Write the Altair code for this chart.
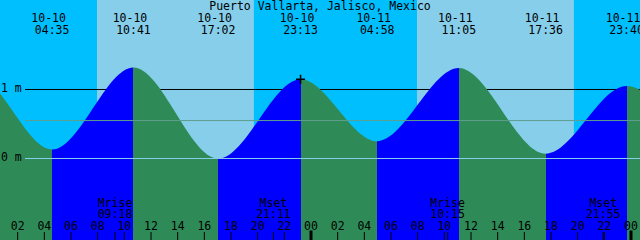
import altair as alt
import pandas as pd

# ---------------- data ----------------
title_text = "Puerto Vallarta, Jalisco, Mexico"

# tide extremes shown in the chart
tide_dates = ["10-10", "10-10", "10-10", "10-10", "10-11", "10-11", "10-11", "10-11"]
tide_times = ["04:35", "10:41", "17:02", "23:13", "04:58", "11:05", "17:36", "23:40"]
tide_heights = [0.13, 1.32, 0.00, 1.15, 0.25, 1.31, 0.07, 1.05]

# extremes just outside the window (estimated, keep the curve shape at the edges)
pre_dates = ["10-09", "10-09"]
pre_times = ["16:25", "22:50"]
pre_heights = [0.05, 1.20]
post_dates = ["10-12", "10-12"]
post_times = ["05:25", "11:35"]
post_heights = [0.33, 1.28]

# sun (day = light sky)
sunrise = [("10-10", "07:57"), ("10-11", "07:57")]
sunset = [("10-10", "19:43"), ("10-11", "19:43")]

# moon events
moon_labels = ["Mrise", "Mset", "Mrise", "Mset"]
moon_dates = ["10-10", "10-10", "10-11", "10-11"]
moon_times = ["09:18", "21:11", "10:15", "21:55"]

# hour ticks along the bottom
tick_hours = list(range(2, 49, 2))
tick_labels = ["02", "04", "06", "08", "10", "12", "14", "16", "18", "20", "22", "00",
               "02", "04", "06", "08", "10", "12", "14", "16", "18", "20", "22", "00"]
midnight_hours = [24, 48]

# horizontal reference levels (m)
ref_levels = [1.0, 0.55, 0.0]
ref_colors = ["#000000", "#5f9e8f", "#87ceeb"]
axis_levels = [1.0, 0.0]
axis_labels = ["1 m", "0 m"]

# current-time marker
now_date, now_time, now_height = "10-10", "23:13", 1.15

# colours
NIGHT = "#00bfff"
DAY = "#87ceeb"
FALLING = "#2e8b57"
RISING = "#0000ff"

FONT = "DejaVu Sans Mono"
FS = 11.5

Y_DOMAIN = [-1.1812, 2.2971]


def hours(date, time):
    d = int(date.split("-")[1]) - 10
    hh, mm = map(int, time.split(":"))
    return d * 24 + hh + mm / 60.0


# ---------------- tables ----------------
all_dates = pre_dates + tide_dates + post_dates
all_times = pre_times + tide_times + post_times
all_heights = pre_heights + tide_heights + post_heights
curve = pd.DataFrame({
    "t": [hours(d, t) for d, t in zip(all_dates, all_times)],
    "h": all_heights,
})

tides = pd.DataFrame({
    "t": [hours(d, t) for d, t in zip(tide_dates, tide_times)],
    "date": tide_dates,
    "time": tide_times,
})

days = pd.DataFrame({
    "t1": [hours(d, t) for d, t in sunrise],
    "t2": [hours(d, t) for d, t in sunset],
})

moon = pd.DataFrame({
    "t": [hours(d, t) for d, t in zip(moon_dates, moon_times)],
    "label": moon_labels,
    "time": moon_times,
})

ticks = pd.DataFrame({"t": tick_hours, "label": tick_labels})
mids = pd.DataFrame({"t": midnight_hours})
refs = pd.DataFrame({"h": ref_levels, "c": ref_colors})
axlab = pd.DataFrame({"h": axis_levels, "label": axis_labels})
now = pd.DataFrame({"t": [hours(now_date, now_time)], "h": [now_height]})

# gradient stops: blue while rising, green while falling
tmin, tmax = curve["t"].min(), curve["t"].max()
stops = []
for i in range(len(curve) - 1):
    c = RISING if curve["h"][i + 1] > curve["h"][i] else FALLING
    o1 = (curve["t"][i] - tmin) / (tmax - tmin)
    o2 = (curve["t"][i + 1] - tmin) / (tmax - tmin)
    stops.append(alt.GradientStop(offset=float(o1), color=c))
    stops.append(alt.GradientStop(offset=float(o2), color=c))
ground = alt.Gradient(gradient="linear", stops=stops, x1=0, x2=1, y1=0, y2=0)

# ---------------- scales ----------------
xs = alt.Scale(domain=[0.675, 48.675], nice=False, zero=False)
ys = alt.Scale(domain=Y_DOMAIN, nice=False, zero=False)
X = lambda f: alt.X(f, scale=xs, axis=None)
Y = lambda f: alt.Y(f, scale=ys, axis=None)

# ---------------- layers ----------------
day_rects = alt.Chart(days).mark_rect(color=DAY).encode(
    x=X("t1:Q"), x2="t2:Q", y=alt.value(0), y2=alt.value(240))

ref_one = alt.Chart(refs.iloc[[0]]).mark_rule(strokeWidth=1).encode(
    x=alt.value(25), x2=alt.value(640), y=Y("h:Q"), color=alt.Color("c:N", scale=None))

area = alt.Chart(curve).mark_area(interpolate="monotone", clip=True, color=ground).encode(
    x=X("t:Q"), y=Y("h:Q"), y2=alt.datum(Y_DOMAIN[0]))

ref_other = alt.Chart(refs.iloc[1:]).mark_rule(strokeWidth=1).encode(
    x=alt.value(25), x2=alt.value(640), y=Y("h:Q"), color=alt.Color("c:N", scale=None))

ylab = alt.Chart(axlab).mark_text(font=FONT, fontSize=FS, align="left", baseline="middle",
                                  color="black").encode(
    x=alt.value(1), y=Y("h:Q"), text="label:N")

title = alt.Chart(pd.DataFrame({"s": [title_text]})).mark_text(
    font=FONT, fontSize=FS, align="center", baseline="alphabetic", color="black").encode(
    x=alt.value(320), y=alt.value(9.5), text="s:N")

tide_date_txt = alt.Chart(tides).mark_text(
    font=FONT, fontSize=FS, align="center", baseline="alphabetic", color="black", dx=-3.5).encode(
    x=X("t:Q"), y=alt.value(21.5), text="date:N")

tide_time_txt = alt.Chart(tides).mark_text(
    font=FONT, fontSize=FS, align="center", baseline="alphabetic", color="black").encode(
    x=X("t:Q"), y=alt.value(33.7), text="time:N")

moon_lab = alt.Chart(moon).mark_text(
    font=FONT, fontSize=FS, align="center", baseline="alphabetic", color="black").encode(
    x=X("t:Q"), y=alt.value(206.7), text="label:N")

moon_time = alt.Chart(moon).mark_text(
    font=FONT, fontSize=FS, align="center", baseline="alphabetic", color="black").encode(
    x=X("t:Q"), y=alt.value(217.5), text="time:N")

moon_ticks = alt.Chart(moon).mark_rule(color="black", strokeWidth=1).encode(
    x=X("t:Q"), y=alt.value(232), y2=alt.value(240))

tick_txt = alt.Chart(ticks).mark_text(
    font=FONT, fontSize=FS, align="center", baseline="alphabetic", color="black").encode(
    x=X("t:Q"), y=alt.value(230), text="label:N")

tick_rules = alt.Chart(ticks).mark_rule(color="black", strokeWidth=1).encode(
    x=X("t:Q"), y=alt.value(232), y2=alt.value(240))

mid_rules = alt.Chart(mids).mark_rule(color="black", strokeWidth=3).encode(
    x=X("t:Q"), y=alt.value(230.5), y2=alt.value(240))

marker = alt.Chart(now).mark_point(
    shape="M-1,0L1,0M0,-1L0,1", size=81, strokeWidth=1.5, color="black", filled=False,
    opacity=1).encode(x=X("t:Q"), y=Y("h:Q"))

chart = alt.layer(
    day_rects, ref_one, area, ref_other, ylab, title, tide_date_txt, tide_time_txt,
    moon_lab, moon_time, moon_ticks, tick_txt, tick_rules, mid_rules, marker
).properties(
    width=640, height=240, padding=0, autosize=alt.AutoSizeParams(type="none"),
    background=NIGHT
).configure_view(stroke=None, fill=NIGHT)

chart.save("out.html", embed_options={"renderer": "svg", "actions": False})
